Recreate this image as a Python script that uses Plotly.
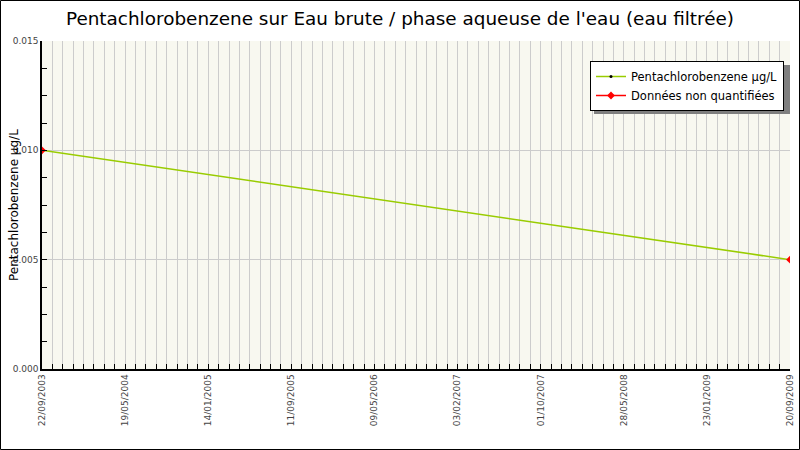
import pandas as pd
import plotly.graph_objects as go

dates = ['2003-09-22', '2009-09-20']
values = [0.010, 0.005]
nq_dates = ['2003-09-22', None, '2009-09-20']
nq_values = [0.010, None, 0.005]
tick_labels = ['22/09/2003', '19/05/2004', '14/01/2005', '11/09/2005', '09/05/2006',
               '03/02/2007', '01/10/2007', '28/05/2008', '23/01/2009', '20/09/2009']

start = pd.Timestamp(dates[0])
end = pd.Timestamp(dates[-1])
tick_pos = pd.date_range(start, end, periods=len(tick_labels))
minor_ms = (end - start).total_seconds() * 1000 / 72

fig = go.Figure()

fig.add_trace(go.Scatter(
    x=dates, y=values,
    mode='lines+markers',
    name='Pentachlorobenzene µg/L',
    line=dict(color='#99CC00', width=1.5),
    marker=dict(color='black', size=3)
))

fig.add_trace(go.Scatter(
    x=nq_dates, y=nq_values,
    mode='lines+markers',
    name='Données non quantifiées',
    connectgaps=False,
    line=dict(color='red', width=1.5),
    marker=dict(color='red', size=6, symbol='diamond')
))

L, R, T, B = 42, 10, 41, 81
pw, ph = 800 - L - R, 450 - T - B

fig.update_layout(
    width=800, height=450,
    margin=dict(l=L, r=R, t=T, b=B),
    paper_bgcolor='white',
    plot_bgcolor='#F8F8F0',
    font=dict(family='DejaVu Sans', color='#444444', size=9),
    title=dict(text="Pentachlorobenzene sur Eau brute / phase aqueuse de l'eau (eau filtrée)",
               x=0.5, xanchor='center', y=1 - 19 / 450, yanchor='middle',
               font=dict(size=18.4, color='black')),
    showlegend=True,
    legend=dict(
        x=(590 - L) / pw, y=(450 - B - 61) / ph, xanchor='left', yanchor='top',
        bgcolor='white', bordercolor='black', borderwidth=1,
        font=dict(size=11.5, color='black'),
        tracegroupgap=0, itemwidth=30
    ),
    xaxis=dict(
        type='date', automargin=False,
        range=[start, end],
        tickmode='array', tickvals=tick_pos, ticktext=tick_labels,
        tickangle=-90,
        ticks='inside', ticklen=5, tickcolor='black',
        showline=True, linecolor='black', linewidth=1.5,
        showgrid=True, gridcolor='#CCCCCC', gridwidth=1,
        minor=dict(tick0=start, dtick=minor_ms, ticks='inside', ticklen=5,
                   tickcolor='black', showgrid=True, gridcolor='#CCCCCC'),
        zeroline=False
    ),
    yaxis=dict(
        automargin=False,
        range=[0, 0.015],
        dtick=0.005, tickformat='.3f',
        ticks='inside', ticklen=5, tickcolor='black',
        showline=True, linecolor='black', linewidth=1.5,
        showgrid=True, gridcolor='#CCCCCC', gridwidth=1,
        minor=dict(dtick=0.00125, ticks='inside', ticklen=5, tickcolor='black',
                   showgrid=False),
        zeroline=False
    ),
    annotations=[dict(
        text='Pentachlorobenzene µg/L', textangle=-90,
        xref='paper', yref='paper', x=-(L - 14) / pw, y=0.5,
        xanchor='center', yanchor='middle', showarrow=False,
        font=dict(size=12, color='black')
    )],
    shapes=[
        # legend drop shadow
        dict(type='rect', xref='paper', yref='paper',
             x0=(594 - L) / pw, x1=(790 - L) / pw,
             y0=(450 - B - 114) / ph, y1=(450 - B - 65) / ph,
             fillcolor='#7F7F7F', line=dict(width=0), layer='above'),
        # outer frame
        dict(type='rect', xref='paper', yref='paper',
             x0=-(L - 0.5) / pw, x1=(800 - L - 0.5) / pw,
             y0=-(B - 0.5) / ph, y1=(450 - B - 0.5) / ph,
             line=dict(color='black', width=1), fillcolor='rgba(0,0,0,0)')
    ]
)

fig.write_html("out.html", config={'displayModeBar': False},
               post_script="document.body.style.margin='0';document.body.style.overflow='hidden';")
